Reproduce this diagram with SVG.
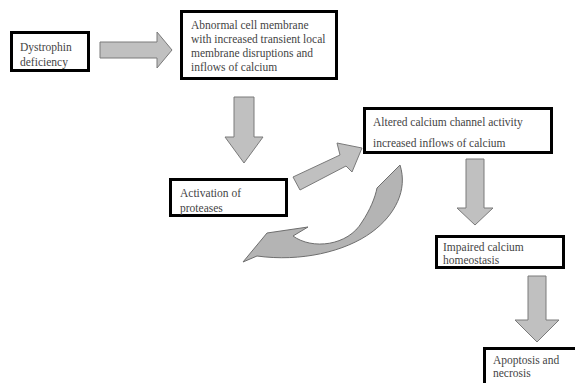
<svg xmlns="http://www.w3.org/2000/svg" width="575" height="383" viewBox="0 0 575 383">
<style>
.box{fill:#fff;stroke:#000;stroke-width:3}
text{font-family:'Liberation Serif','Times New Roman',Times,serif;font-size:11.5px;fill:#444}
.arr{fill:#c0c0c0;stroke:#7a7a7a;stroke-width:1;stroke-linejoin:miter}
.curve{fill:#b4b4b4;stroke:#6e6e6e;stroke-width:1}
</style>
<rect width="575" height="383" fill="#fff"/>
<g id="connectors">
<polygon class="arr" points="100,42 157,42 157,32 172,50 157,68 157,58 100,58"/>
<polygon class="arr" points="234,97 254,97 254,137 263,137 244,163 225,137 234,137"/>
<polygon class="arr" points="293,177 340,155 337,143 362,148 352,172 346,166 300,190"/>
<polygon class="arr" points="466,159 484,159 484,208 493,208 475,225 457,208 466,208"/>
<polygon class="arr" points="528,276 546,276 546,320 559,320 537,342 515,320 528,320"/>
<path class="curve" d="M243,262 L267,233 L308,227 L293,236 C312,250 348,246 362,222 C370,210 375,198 377,188 L400,165 C408,190 395,215 372,232 C345,252 300,262 257,256 Z"/>
</g>
<g font-family="Liberation Serif, serif">
<g id="n1">
<rect class="box" x="11.5" y="32.5" width="77" height="38"/>
<text x="20" y="51">Dystrophin</text>
<text x="20" y="66">deficiency</text>
</g>
<g id="n2">
<rect class="box" x="181.5" y="11.5" width="155" height="67"/>
<text x="191" y="29">Abnormal cell membrane</text>
<text x="191" y="43">with increased transient local</text>
<text x="191" y="57">membrane disruptions and</text>
<text x="191" y="71">inflows of calcium</text>
</g>
<g id="n3">
<rect class="box" x="170.5" y="179.5" width="116" height="36"/>
<text x="180" y="197">Activation of</text>
<text x="180" y="212">proteases</text>
</g>
<g id="n4">
<rect class="box" x="364.5" y="108.5" width="187" height="44"/>
<text x="373" y="126">Altered calcium channel activity</text>
<text x="373" y="147">increased inflows of calcium</text>
</g>
<g id="n5">
<rect class="box" x="436.5" y="236.5" width="127" height="31"/>
<text x="443" y="251">Impaired calcium</text>
<text x="443" y="264">homeostasis</text>
</g>
<g id="n6">
<rect class="box" x="484.5" y="348.5" width="95" height="40"/>
<text x="493" y="364">Apoptosis and</text>
<text x="493" y="377">necrosis</text>
</g>
</g>
</svg>
